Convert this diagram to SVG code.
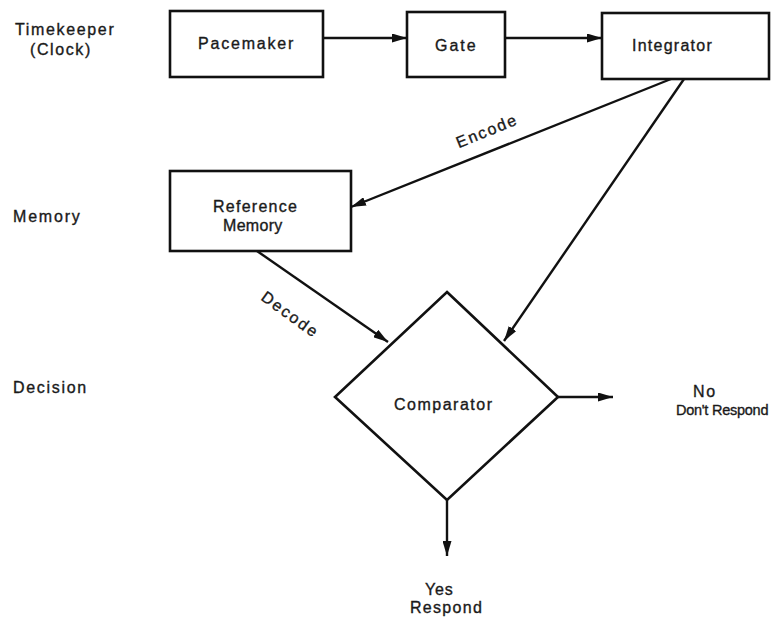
<svg xmlns="http://www.w3.org/2000/svg" width="774" height="618" viewBox="0 0 774 618">
<style>
.box{fill:#fff;stroke:#111;stroke-width:2.6}
.ln{fill:none;stroke:#111;stroke-width:2.4}
text{font-family:"Liberation Sans",Arial,sans-serif;font-size:16px;fill:#1a1a1a;stroke:#1a1a1a;stroke-width:0.35}
</style>
<defs>
<marker id="ah" viewBox="0 0 15 9" refX="15" refY="4.5" markerWidth="15" markerHeight="9" markerUnits="userSpaceOnUse" orient="auto">
<path d="M0,0 L15,4.5 L0,9 Z" fill="#111"/>
</marker>
</defs>
<rect width="774" height="618" fill="#fff"/>
<g id="labels">
<text x="15" y="35" letter-spacing="1.65">Timekeeper</text>
<text x="30" y="55" letter-spacing="1.6">(Clock)</text>
<text x="13" y="222" letter-spacing="1.8">Memory</text>
<text x="13" y="393" letter-spacing="1.7">Decision</text>
<text x="693" y="397" letter-spacing="1.6">No</text>
<text x="676" y="415" style="font-size:14.5px" letter-spacing="-0.25">Don't Respond</text>
<text x="425" y="595" letter-spacing="0.8">Yes</text>
<text x="410" y="613" letter-spacing="1.3">Respond</text>
</g>
<g id="pacemaker">
<rect class="box" x="170" y="11" width="153" height="66"/>
<text x="198" y="49" letter-spacing="1.8">Pacemaker</text>
</g>
<g id="gate">
<rect class="box" x="407" y="12" width="98" height="65"/>
<text x="435" y="51" letter-spacing="2">Gate</text>
</g>
<g id="integrator">
<rect class="box" x="602" y="13" width="167" height="66"/>
<text x="632" y="51" letter-spacing="1.25">Integrator</text>
</g>
<g id="reference-memory">
<rect class="box" x="170" y="171" width="181" height="80"/>
<text x="213" y="212" letter-spacing="1.25">Reference</text>
<text x="223" y="231" letter-spacing="0.3">Memory</text>
</g>
<g id="comparator">
<polygon class="box" points="447,292 558,397 447,500 335,397"/>
<text x="394" y="410" letter-spacing="1.5">Comparator</text>
</g>
<g id="connectors">
<line class="ln" x1="323" y1="38" x2="407" y2="38" marker-end="url(#ah)"/>
<line class="ln" x1="505" y1="38" x2="602" y2="38" marker-end="url(#ah)"/>
<line class="ln" x1="671" y1="79" x2="351" y2="207" marker-end="url(#ah)"/>
<line class="ln" x1="684" y1="79" x2="504" y2="341" marker-end="url(#ah)"/>
<line class="ln" x1="257" y1="251" x2="388" y2="342" marker-end="url(#ah)"/>
<line class="ln" x1="558" y1="397" x2="613" y2="397" marker-end="url(#ah)"/>
<line class="ln" x1="447" y1="500" x2="447" y2="556" marker-end="url(#ah)"/>
<text x="-32.5" y="0" letter-spacing="1.8" transform="translate(489,136) rotate(-22)">Encode</text>
<text x="-33.5" y="0" letter-spacing="2" transform="translate(287,319) rotate(36)">Decode</text>
</g>
</svg>
